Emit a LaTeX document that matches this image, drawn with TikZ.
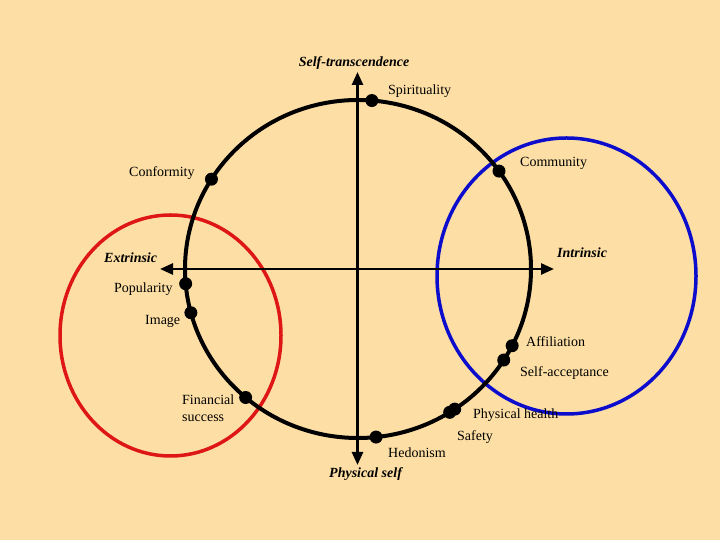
\documentclass[tikz,border=0pt]{standalone}
\usepackage{fontspec}
\setmainfont{Liberation Serif}
\usetikzlibrary{positioning,arrows.meta}
\definecolor{paper}{RGB}{253,223,165}
\definecolor{ringred}{RGB}{222,22,22}
\definecolor{ringblue}{RGB}{12,12,205}

\begin{document}
\begin{tikzpicture}[x=1pt,y=1pt,
			>={Triangle[length=13pt,width=11pt]},
			every node/.style={
				inner sep=0pt,
				font=\fontsize{14}{17}\selectfont
			},
			value/.style={anchor=west},
			pole/.style={font=\fontsize{14}{17}\selectfont\bfseries\itshape},
			dot/.style={circle,fill=black,minimum size=13pt},
			axis/.style={line width=2.6pt,<->},
			ring/.style={line width=4pt},
			group/.style={line width=3.5pt}]
			
			\useasboundingbox (0,0) rectangle (720,540);
			
			\fill[paper] (0,0) rectangle (720,540);
			
			\coordinate (o) at (358,271);
			
			\coordinate (ext) at (170.5,204.5);
			
			\coordinate (int) at (566.5,264);
			
			\draw[group,ringred] (ext) ellipse [x radius=110.5pt,y radius=120.5pt];
			
			\draw[group,ringblue] (int) ellipse [x radius=129.5pt,y radius=138pt];
			
			\coordinate (top) at (357.5,468);
			
			\coordinate (bottom) at (357.5,75);
			
			\coordinate (left) at (160,271);
			
			\coordinate (right) at (554,271);
			
			\draw[axis](bottom)--(top);
			
			\draw[axis](left)--(right);
			
			\draw[ring] (o) ellipse [x radius=173pt,y radius=169pt];
			
			\node[dot] (spirit) at ([shift={(85.4:173pt and 169pt)}]o) {};
			
			\node[dot] (conform) at ([shift={(147.9:173pt and 169pt)}]o) {};
			
			\node[dot] (popular) at ([shift={(185:173pt and 169pt)}]o) {};
			
			\node[dot] (image) at ([shift={(195:173pt and 169pt)}]o) {};
			
			\node[dot] (finance) at ([shift={(229.5:173pt and 169pt)}]o) {};
			
			\node[dot] (hedon) at ([shift={(276:173pt and 169pt)}]o) {};
			
			\node[dot] (safety) at ([shift={(302:173pt and 169pt)}]o) {};
			
			\node[dot] (health) at ([shift={(304:173pt and 169pt)}]o) {};
			
			\node[dot] (accept) at ([shift={(327.4:173pt and 169pt)}]o) {};
			
			\node[dot] (affil) at ([shift={(333:173pt and 169pt)}]o) {};
			
			\node[dot] (commun) at ([shift={(35.4:173pt and 169pt)}]o) {};
			
			\node[pole] (transc) at (354,477) {Self-transcendence};
			
			\node[pole,anchor=west] (physself) at (329,66) {Physical self};
			
			\node[pole,anchor=west] (extrin) at (104,282.5) {Extrinsic};
			
			\node[pole,anchor=west] (intrin) at (557,287.5) {Intrinsic};
			
			\node[value] (spiritlbl) at (388,448.5) {Spirituality};
			
			\node[value] (conformlbl) at (129,366.5) {Conformity};
			
			\node[value] (popularlbl) at (114,250.5) {Popularity};
			
			\node[value] (imagelbl) at (145,218.5) {Image};
			
			\node[value,align=left] (financelbl) at (182,131.5) {Financial\\success};
			
			\node[value] (hedonlbl) at (388,87.5) {Hedonism};
			
			\node[value] (safetylbl) at (457,102.5) {Safety};
			
			\node[value] (healthlbl) at (473,124.5) {Physical health};
			
			\node[value] (acceptlbl) at (520,166.5) {Self-acceptance};
			
			\node[value] (affillbl) at (526,198.5) {Affiliation};
			
			\node[value] (communlbl) at (520,376.5) {Community};
			
		\end{tikzpicture}
\end{document}
